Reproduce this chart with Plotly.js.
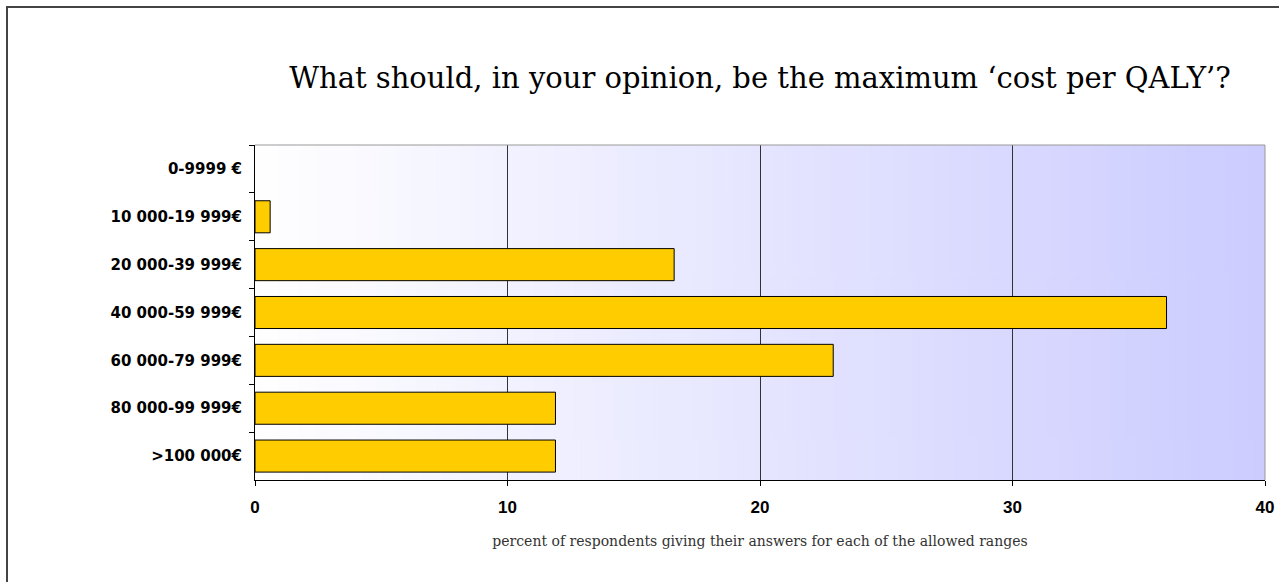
<!DOCTYPE html>
<html>
<head>
<meta charset="utf-8">
<script src="https://cdn.plot.ly/plotly-3.0.1.min.js"></script>
<style>
html,body{margin:0;padding:0;background:#fff;}
#chart{width:1279px;height:582px;}
</style>
</head>
<body>
<div id="chart"></div>
<script>
const categories = ["0-9999 €", "10 000-19 999€", "20 000-39 999€", "40 000-59 999€", "60 000-79 999€", "80 000-99 999€", ">100 000€"];
const percents = [0, 0.6, 16.6, 36.1, 22.9, 11.9, 11.9];
const xTicks = [0, 10, 20, 30, 40];
const titleText = "What should, in your opinion, be the maximum ‘cost per QALY’?";
const xTitleText = "percent of respondents giving their answers for each of the allowed ranges";

// gradient background for the plot area
const cv = document.createElement('canvas');
cv.width = 512; cv.height = 4;
const ctx = cv.getContext('2d');
const g = ctx.createLinearGradient(0, 0, 512, 0);
g.addColorStop(0, '#ffffff');
g.addColorStop(1, '#ccccff');
ctx.fillStyle = g;
ctx.fillRect(0, 0, 512, 4);
const bgURL = cv.toDataURL('image/png');

const trace = {
  type: 'bar',
  orientation: 'h',
  y: categories,
  x: percents,
  marker: {color: '#FFCC00', line: {color: '#000000', width: percents.map(v => v > 0 ? 1 : 0)}},
  hoverinfo: 'x+y'
};

const layout = {
  width: 1279, height: 582,
  margin: {l: 255, r: 14, t: 145, b: 102, pad: 0},
  paper_bgcolor: '#ffffff',
  plot_bgcolor: 'rgba(0,0,0,0)',
  showlegend: false,
  bargap: 0.33,
  title: {
    text: titleText,
    font: {family: 'DejaVu Serif', size: 29, color: '#000'},
    x: 0.5, xref: 'paper', xanchor: 'center',
    y: 1 - 78/582, yref: 'container', yanchor: 'middle'
  },
  xaxis: {
    range: [0, 40],
    tickvals: xTicks,
    ticktext: xTicks.map(String),
    ticks: 'outside', ticklen: 5, tickcolor: '#000', tickwidth: 1,
    ticklabelstandoff: 7,
    showgrid: true, gridcolor: '#333', gridwidth: 1,
    zeroline: false,
    showline: true, linecolor: '#000', linewidth: 1,
    tickfont: {family: 'Liberation Sans', size: 17, color: '#000', weight: 'bold'},
    title: {
      text: xTitleText,
      font: {family: 'DejaVu Serif', size: 14, color: '#333'},
      standoff: 19
    },
    fixedrange: true
  },
  yaxis: {
    type: 'category',
    autorange: 'reversed',
    tickson: 'boundaries',
    ticks: 'outside', ticklen: 5, tickcolor: '#000', tickwidth: 1,
    showgrid: false,
    zeroline: false,
    showline: true, linecolor: '#000', linewidth: 1,
    tickfont: {family: 'DejaVu Sans', size: 15, color: '#000', weight: 'bold'},
    ticklabelstandoff: 9,
    fixedrange: true
  },
  images: [{
    source: bgURL, xref: 'paper', yref: 'paper',
    x: 0, y: 1, sizex: 1, sizey: 1,
    sizing: 'stretch', layer: 'below', xanchor: 'left', yanchor: 'top'
  }],
  shapes: [
    {type: 'line', xref: 'paper', yref: 'paper', x0: 0, x1: 1, y0: 1, y1: 1, line: {color: '#999', width: 1}},
    {type: 'line', xref: 'paper', yref: 'paper', x0: 1, x1: 1, y0: 0, y1: 1, line: {color: '#999', width: 1}},
    {type: 'rect', xref: 'paper', yref: 'paper',
     x0: (7 - 255) / 1010, x1: (1290 - 255) / 1010,
     y0: (480 - 600) / 335, y1: 1 + (145 - 7) / 335,
     line: {color: '#444', width: 2}, fillcolor: 'rgba(0,0,0,0)'}
  ]
};

Plotly.newPlot('chart', [trace], layout, {displayModeBar: false, responsive: false, staticPlot: true});
</script>
</body>
</html>
